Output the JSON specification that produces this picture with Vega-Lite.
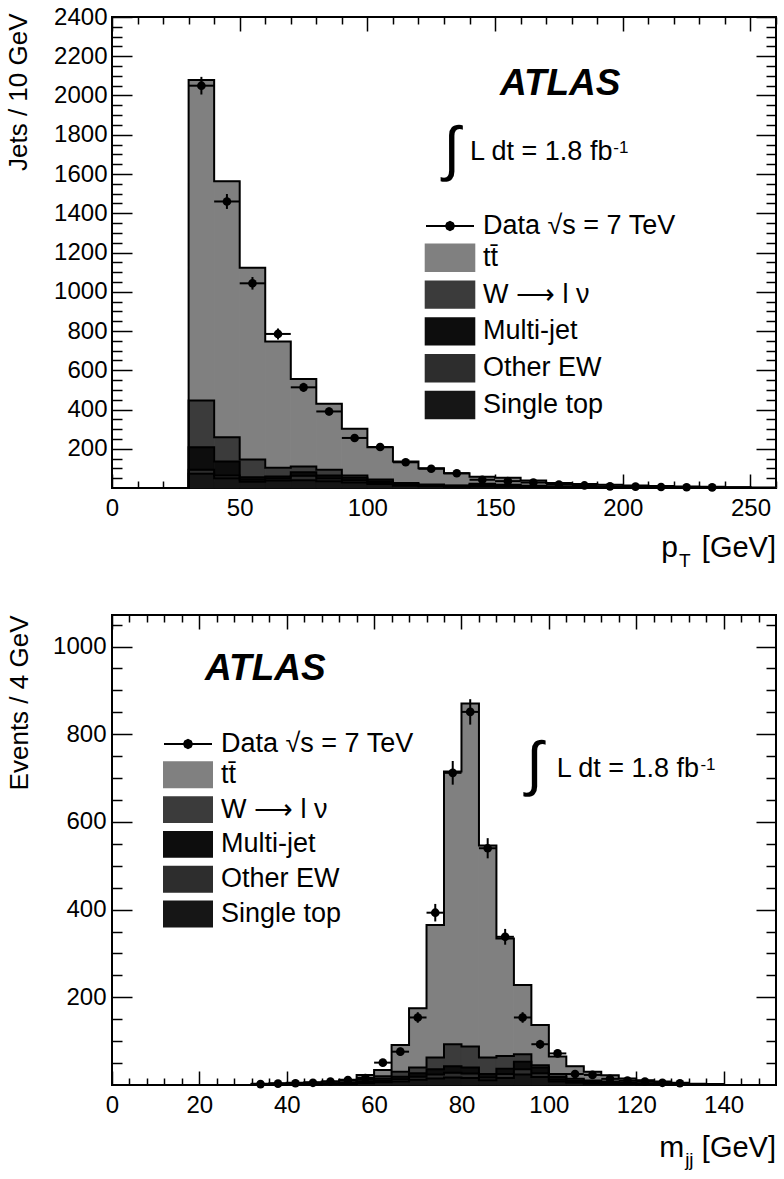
{
  "$schema": "https://vega.github.io/schema/vega-lite/v6.json",
  "padding": {"left": 3, "top": 4, "right": 0, "bottom": 0},
  "spacing": 40,
  "config": {
    "font": "Liberation Sans",
    "view": {"stroke": "black", "strokeWidth": 2},
    "axis": {"domain": false, "grid": false, "labelFont": "Liberation Sans", "labelFontSize": 24, "labelColor": "black", "tickColor": "black", "tickWidth": 1.5, "titleFont": "Liberation Sans", "titleFontSize": 26, "titleFontWeight": "normal", "titleColor": "black", "labelFlush": false, "labelOverlap": false}
  },
  "resolve": {"scale": {"fill": "independent", "stroke": "independent"}, "legend": {"fill": "independent"}},
  "datasets": {
    "hist1": [
      {"lo":20,"hi":30,"st":0,"ew":0,"mj":0,"w":0,"tt":0},
      {"lo":30,"hi":40,"st":72,"ew":21,"mj":115,"w":238,"tt":1633},
      {"lo":40,"hi":50,"st":50,"ew":14,"mj":71,"w":124,"tt":1304},
      {"lo":50,"hi":60,"st":32,"ew":10,"mj":13,"w":90,"tt":977},
      {"lo":60,"hi":70,"st":38,"ew":10,"mj":11,"w":44,"tt":643},
      {"lo":70,"hi":80,"st":40,"ew":22,"mj":18,"w":30,"tt":446},
      {"lo":80,"hi":90,"st":35,"ew":14,"mj":15,"w":29,"tt":336},
      {"lo":90,"hi":100,"st":28,"ew":12,"mj":12,"w":12,"tt":238},
      {"lo":100,"hi":110,"st":20,"ew":8,"mj":6,"w":9,"tt":165},
      {"lo":110,"hi":120,"st":12,"ew":5,"mj":4,"w":5,"tt":109},
      {"lo":120,"hi":130,"st":9,"ew":4,"mj":2,"w":3,"tt":83},
      {"lo":130,"hi":140,"st":6,"ew":3,"mj":2,"w":2,"tt":62},
      {"lo":140,"hi":150,"st":8,"ew":4,"mj":4,"w":6,"tt":35},
      {"lo":150,"hi":160,"st":7,"ew":3,"mj":3,"w":4,"tt":35},
      {"lo":160,"hi":170,"st":5,"ew":2,"mj":1,"w":3,"tt":27},
      {"lo":170,"hi":180,"st":3,"ew":2,"mj":1,"w":2,"tt":18},
      {"lo":180,"hi":190,"st":2,"ew":1,"mj":1,"w":1,"tt":16},
      {"lo":190,"hi":200,"st":2,"ew":1,"mj":0,"w":1,"tt":13},
      {"lo":200,"hi":210,"st":1,"ew":1,"mj":0,"w":1,"tt":10},
      {"lo":210,"hi":220,"st":1,"ew":0,"mj":0,"w":1,"tt":8},
      {"lo":220,"hi":230,"st":1,"ew":0,"mj":0,"w":1,"tt":6},
      {"lo":230,"hi":240,"st":1,"ew":0,"mj":0,"w":0,"tt":5},
      {"lo":240,"hi":250,"st":1,"ew":0,"mj":0,"w":0,"tt":3},
      {"lo":250,"hi":260,"st":0,"ew":0,"mj":0,"w":0,"tt":3}
    ],
    "pts1": [
      {"c":35,"lo":30,"hi":40,"n":2050,"e":45},
      {"c":45,"lo":40,"hi":50,"n":1460,"e":38},
      {"c":55,"lo":50,"hi":60,"n":1043,"e":32},
      {"c":65,"lo":60,"hi":70,"n":785,"e":28},
      {"c":75,"lo":70,"hi":80,"n":513,"e":23},
      {"c":85,"lo":80,"hi":90,"n":390,"e":20},
      {"c":95,"lo":90,"hi":100,"n":255,"e":16},
      {"c":105,"lo":100,"hi":110,"n":209,"e":14},
      {"c":115,"lo":110,"hi":120,"n":131,"e":11},
      {"c":125,"lo":120,"hi":130,"n":98,"e":10},
      {"c":135,"lo":130,"hi":140,"n":75,"e":9},
      {"c":145,"lo":140,"hi":150,"n":42,"e":6},
      {"c":155,"lo":150,"hi":160,"n":35,"e":6},
      {"c":165,"lo":160,"hi":170,"n":28,"e":5},
      {"c":175,"lo":170,"hi":180,"n":18,"e":4},
      {"c":185,"lo":180,"hi":190,"n":13,"e":4},
      {"c":195,"lo":190,"hi":200,"n":8,"e":3},
      {"c":205,"lo":200,"hi":210,"n":7,"e":3},
      {"c":215,"lo":210,"hi":220,"n":5,"e":2},
      {"c":225,"lo":220,"hi":230,"n":4,"e":2},
      {"c":235,"lo":230,"hi":240,"n":3,"e":2}
    ],
    "hist2": [
      {"lo":28,"hi":32,"st":0,"ew":0,"mj":0,"w":0,"tt":0},
      {"lo":32,"hi":36,"st":1,"ew":0,"mj":0,"w":1,"tt":1},
      {"lo":36,"hi":40,"st":1,"ew":0,"mj":0,"w":1,"tt":2},
      {"lo":40,"hi":44,"st":1,"ew":1,"mj":0,"w":1,"tt":2},
      {"lo":44,"hi":48,"st":1,"ew":0,"mj":1,"w":1,"tt":3},
      {"lo":48,"hi":52,"st":2,"ew":0,"mj":1,"w":1,"tt":4},
      {"lo":52,"hi":56,"st":2,"ew":1,"mj":1,"w":2,"tt":6},
      {"lo":56,"hi":60,"st":4,"ew":2,"mj":2,"w":4,"tt":11},
      {"lo":60,"hi":64,"st":6,"ew":3,"mj":5,"w":6,"tt":14},
      {"lo":64,"hi":68,"st":8,"ew":5,"mj":6,"w":11,"tt":61},
      {"lo":68,"hi":72,"st":12,"ew":7,"mj":8,"w":13,"tt":135},
      {"lo":72,"hi":76,"st":15,"ew":9,"mj":12,"w":27,"tt":302},
      {"lo":76,"hi":80,"st":17,"ew":11,"mj":15,"w":50,"tt":622},
      {"lo":80,"hi":84,"st":16,"ew":10,"mj":14,"w":48,"tt":782},
      {"lo":84,"hi":88,"st":11,"ew":6,"mj":8,"w":38,"tt":483},
      {"lo":88,"hi":92,"st":16,"ew":9,"mj":12,"w":29,"tt":268},
      {"lo":92,"hi":96,"st":24,"ew":12,"mj":17,"w":17,"tt":158},
      {"lo":96,"hi":100,"st":18,"ew":9,"mj":13,"w":5,"tt":92},
      {"lo":100,"hi":104,"st":8,"ew":4,"mj":6,"w":7,"tt":40},
      {"lo":104,"hi":108,"st":5,"ew":2,"mj":3,"w":4,"tt":29},
      {"lo":108,"hi":112,"st":3,"ew":2,"mj":2,"w":3,"tt":20},
      {"lo":112,"hi":116,"st":2,"ew":1,"mj":2,"w":3,"tt":14},
      {"lo":116,"hi":120,"st":2,"ew":1,"mj":1,"w":2,"tt":9},
      {"lo":120,"hi":124,"st":1,"ew":1,"mj":1,"w":1,"tt":7},
      {"lo":124,"hi":128,"st":1,"ew":0,"mj":1,"w":1,"tt":5},
      {"lo":128,"hi":132,"st":1,"ew":0,"mj":0,"w":1,"tt":3},
      {"lo":132,"hi":136,"st":1,"ew":0,"mj":0,"w":0,"tt":2},
      {"lo":136,"hi":140,"st":0,"ew":0,"mj":0,"w":1,"tt":1},
      {"lo":140,"hi":144,"st":0,"ew":0,"mj":0,"w":0,"tt":0}
    ],
    "pts2": [
      {"c":34,"lo":32,"hi":36,"n":2,"e":1.4},
      {"c":38,"lo":36,"hi":40,"n":3,"e":1.7},
      {"c":42,"lo":40,"hi":44,"n":4,"e":2},
      {"c":46,"lo":44,"hi":48,"n":5,"e":2.2},
      {"c":50,"lo":48,"hi":52,"n":8,"e":2.8},
      {"c":54,"lo":52,"hi":56,"n":11,"e":3.3},
      {"c":58,"lo":56,"hi":60,"n":16,"e":4},
      {"c":62,"lo":60,"hi":64,"n":51,"e":7},
      {"c":66,"lo":64,"hi":68,"n":76,"e":9},
      {"c":70,"lo":68,"hi":72,"n":154,"e":12},
      {"c":74,"lo":72,"hi":76,"n":393,"e":20},
      {"c":78,"lo":76,"hi":80,"n":712,"e":27},
      {"c":82,"lo":80,"hi":84,"n":851,"e":29},
      {"c":86,"lo":84,"hi":88,"n":540,"e":23},
      {"c":90,"lo":88,"hi":92,"n":338,"e":18},
      {"c":94,"lo":92,"hi":96,"n":154,"e":12},
      {"c":98,"lo":96,"hi":100,"n":93,"e":10},
      {"c":102,"lo":100,"hi":104,"n":72,"e":8.5},
      {"c":106,"lo":104,"hi":108,"n":25,"e":5},
      {"c":110,"lo":108,"hi":112,"n":23,"e":5},
      {"c":114,"lo":112,"hi":116,"n":14,"e":4},
      {"c":118,"lo":116,"hi":120,"n":10,"e":3},
      {"c":122,"lo":120,"hi":124,"n":8,"e":3},
      {"c":126,"lo":124,"hi":128,"n":5,"e":2},
      {"c":130,"lo":128,"hi":132,"n":4,"e":2}
    ]
  },
  "vconcat": [
    {
      "width": 664,
      "height": 471,
      "resolve": {"axis": {"x": "independent", "y": "independent"}},
      "layer": [
        {
          "data": {"name": "hist1"},
          "transform": [
            {"fold": ["st", "ew", "mj", "w", "tt"], "as": ["proc", "n"]},
            {"lookup": "proc", "from": {"data": {"values": [{"proc":"st","label":"Single top","rank":1},{"proc":"ew","label":"Other EW","rank":2},{"proc":"mj","label":"Multi-jet","rank":3},{"proc":"w","label":"W ⟶ l ν","rank":4},{"proc":"tt","label":"tt̄","rank":5}]}, "key": "proc", "fields": ["label", "rank"]}},
            {"stack": "n", "groupby": ["lo"], "sort": [{"field": "rank", "order": "ascending"}], "as": ["y0", "y1"]}
          ],
          "mark": {"type": "rect", "strokeWidth": 1},
          "encoding": {
            "x": {"field": "lo", "type": "quantitative", "scale": {"domain": [0, 260], "nice": false, "zero": false},
                  "axis": {"orient": "bottom", "values": [0, 50, 100, 150, 200, 250], "format": "d", "tickSize": -14, "labelPadding": 22, "title": null}},
            "x2": {"field": "hi"},
            "y": {"field": "y0", "type": "quantitative", "scale": {"domain": [0, 2400], "nice": false, "zero": false},
                  "axis": {"orient": "left", "values": [200, 400, 600, 800, 1000, 1200, 1400, 1600, 1800, 2000, 2200, 2400], "format": "d", "tickSize": -20, "labelPadding": 25, "title": "Jets / 10 GeV", "titleAngle": -90, "titleAlign": "right", "titleBaseline": "middle", "titleX": -94, "titleY": -4}},
            "y2": {"field": "y1"},
            "stroke": {"field": "label", "type": "nominal", "legend": null,
                     "scale": {"domain": ["Data √s = 7 TeV", "tt̄", "W ⟶ l ν", "Multi-jet", "Other EW", "Single top"], "range": ["#000000", "#808080", "#3b3b3b", "#0d0d0d", "#2d2d2d", "#161616"]}},
            "fill": {"field": "label", "type": "nominal",
                     "scale": {"domain": ["Data √s = 7 TeV", "tt̄", "W ⟶ l ν", "Multi-jet", "Other EW", "Single top"], "range": ["#000000", "#808080", "#3b3b3b", "#0d0d0d", "#2d2d2d", "#161616"]},
                     "legend": {"title": null, "orient": "none", "legendX": 322, "legendY": 193, "padding": 0, "rowPadding": 0.8, "symbolSize": 900, "labelFont": "Liberation Sans", "labelFontSize": 27, "labelColor": "black", "labelLimit": 400, "labelOffset": 17,
                                "encode": {"symbols": {"update": {"shape": {"signal": "datum.index === 0 ? 'M-1.6,0L1.6,0M-0.27,0L-0.19,-0.19L0,-0.27L0.19,-0.19L0.27,0L0.19,0.19L0,0.27L-0.19,0.19Z' : 'M-1.62,-0.88L1.62,-0.88L1.62,0.88L-1.62,0.88Z'"}, "stroke": {"value": "black"}, "strokeWidth": {"value": 2}, "opacity": {"value": 1}}}}}}
          }
        },
        {
          "data": {"name": "hist1"},
          "transform": [
            {"fold": ["st", "ew", "mj", "w", "tt"], "as": ["proc", "n"]},
            {"lookup": "proc", "from": {"data": {"values": [{"proc":"st","rank":1},{"proc":"ew","rank":2},{"proc":"mj","rank":3},{"proc":"w","rank":4},{"proc":"tt","rank":5}]}, "key": "proc", "fields": ["rank"]}},
            {"stack": "n", "groupby": ["lo"], "sort": [{"field": "rank", "order": "ascending"}], "as": ["y0", "y1"]},
            {"fold": ["lo", "hi"], "as": ["side", "edge"]}
          ],
          "mark": {"type": "line", "color": "black", "strokeWidth": 2, "interpolate": "linear"},
          "encoding": {
            "x": {"field": "edge", "type": "quantitative", "scale": {"domain": [0, 260], "nice": false, "zero": false},
                  "axis": {"orient": "bottom", "values": [10,20,30,40,60,70,80,90,110,120,130,140,160,170,180,190,210,220,230,240,260], "tickSize": -7, "labels": false, "title": null}},
            "y": {"field": "y1", "type": "quantitative", "scale": {"domain": [0, 2400], "nice": false, "zero": false},
                  "axis": {"orient": "left", "values": [50,100,150,250,300,350,450,500,550,650,700,750,850,900,950,1050,1100,1150,1250,1300,1350,1450,1500,1550,1650,1700,1750,1850,1900,1950,2050,2100,2150,2250,2300,2350], "tickSize": -10, "labels": false, "title": null}},
            "detail": {"field": "proc", "type": "nominal"},
            "order": [{"field": "edge", "type": "quantitative"}, {"field": "lo", "type": "quantitative"}]
          }
        },
        {
          "data": {"name": "pts1"},
          "mark": {"type": "errorbar", "thickness": 2, "color": "black"},
          "encoding": {
            "x": {"field": "c", "type": "quantitative", "axis": null},
            "y": {"field": "n", "type": "quantitative", "axis": null},
            "yError": {"field": "e"}
          }
        },
        {
          "data": {"name": "pts1"},
          "mark": {"type": "rule", "strokeWidth": 2, "color": "black"},
          "encoding": {
            "x": {"field": "lo", "type": "quantitative", "axis": {"orient": "top", "values": [0, 50, 100, 150, 200, 250], "tickSize": -14, "labels": false, "title": null}},
            "x2": {"field": "hi"},
            "y": {"field": "n", "type": "quantitative", "axis": {"orient": "right", "values": [200, 400, 600, 800, 1000, 1200, 1400, 1600, 1800, 2000, 2200, 2400], "tickSize": -20, "labels": false, "title": null}}
          }
        },
        {
          "data": {"name": "pts1"},
          "mark": {"type": "circle", "size": 75, "color": "black", "opacity": 1},
          "encoding": {
            "x": {"field": "c", "type": "quantitative", "axis": {"orient": "top", "values": [10,20,30,40,60,70,80,90,110,120,130,140,160,170,180,190,210,220,230,240,260], "tickSize": -7, "labels": false, "title": null}},
            "y": {"field": "n", "type": "quantitative", "axis": {"orient": "right", "values": [50,100,150,250,300,350,450,500,550,650,700,750,850,900,950,1050,1100,1150,1250,1300,1350,1450,1500,1550,1650,1700,1750,1850,1900,1950,2050,2100,2150,2250,2300,2350], "tickSize": -10, "labels": false, "title": null}}
          }
        },
        {
          "data": {"values": [{}]},
          "mark": {"type": "text", "text": "ATLAS", "font": "Liberation Sans", "fontWeight": "bold", "fontStyle": "italic", "fontSize": 37, "align": "center", "baseline": "middle", "color": "black"},
          "encoding": {"x": {"datum": 175.5, "type": "quantitative", "axis": null}, "y": {"datum": 2059, "type": "quantitative", "axis": null}}
        },
        {
          "data": {"values": [{}]},
          "mark": {"type": "text", "text": "∫", "font": "Liberation Sans", "fontSize": 60, "align": "center", "baseline": "middle", "color": "black"},
          "encoding": {"x": {"datum": 133, "type": "quantitative", "axis": null}, "y": {"datum": 1719, "type": "quantitative", "axis": null}}
        },
        {
          "data": {"values": [{}]},
          "mark": {"type": "text", "text": "L dt = 1.8 fb", "font": "Liberation Sans", "fontSize": 27, "align": "left", "baseline": "alphabetic", "color": "black"},
          "encoding": {"x": {"datum": 140.2, "type": "quantitative", "axis": null}, "y": {"datum": 1672, "type": "quantitative", "axis": null}}
        },
        {
          "data": {"values": [{}]},
          "mark": {"type": "text", "text": "-1", "font": "Liberation Sans", "fontSize": 17, "align": "left", "baseline": "alphabetic", "color": "black"},
          "encoding": {"x": {"datum": 196.3, "type": "quantitative", "axis": null}, "y": {"datum": 1705, "type": "quantitative", "axis": null}}
        },
        {
          "data": {"values": [{}]},
          "mark": {"type": "text", "text": "[GeV]", "font": "Liberation Sans", "fontSize": 29, "align": "right", "baseline": "alphabetic", "color": "black"},
          "encoding": {"x": {"datum": 260, "type": "quantitative", "axis": null}, "y": {"datum": -354, "type": "quantitative", "axis": null}}
        },
        {
          "data": {"values": [{}]},
          "mark": {"type": "text", "text": "p", "font": "Liberation Sans", "fontSize": 30, "align": "right", "baseline": "alphabetic", "color": "black"},
          "encoding": {"x": {"datum": 221.6, "type": "quantitative", "axis": null}, "y": {"datum": -354, "type": "quantitative", "axis": null}}
        },
        {
          "data": {"values": [{}]},
          "mark": {"type": "text", "text": "T", "font": "Liberation Sans", "fontSize": 19, "align": "left", "baseline": "alphabetic", "color": "black"},
          "encoding": {"x": {"datum": 222, "type": "quantitative", "axis": null}, "y": {"datum": -405, "type": "quantitative", "axis": null}}
        }
      ]
    },
    {
      "width": 664,
      "height": 470,
      "resolve": {"axis": {"x": "independent", "y": "independent"}},
      "layer": [
        {
          "data": {"name": "hist2"},
          "transform": [
            {"fold": ["st", "ew", "mj", "w", "tt"], "as": ["proc", "n"]},
            {"lookup": "proc", "from": {"data": {"values": [{"proc":"st","label":"Single top","rank":1},{"proc":"ew","label":"Other EW","rank":2},{"proc":"mj","label":"Multi-jet","rank":3},{"proc":"w","label":"W ⟶ l ν","rank":4},{"proc":"tt","label":"tt̄","rank":5}]}, "key": "proc", "fields": ["label", "rank"]}},
            {"stack": "n", "groupby": ["lo"], "sort": [{"field": "rank", "order": "ascending"}], "as": ["y0", "y1"]}
          ],
          "mark": {"type": "rect", "strokeWidth": 1},
          "encoding": {
            "x": {"field": "lo", "type": "quantitative", "scale": {"domain": [0, 152], "nice": false, "zero": false},
                  "axis": {"orient": "bottom", "values": [0, 20, 40, 60, 80, 100, 120, 140], "format": "d", "tickSize": -14, "labelPadding": 22, "title": null}},
            "x2": {"field": "hi"},
            "y": {"field": "y0", "type": "quantitative", "scale": {"domain": [0, 1072], "nice": false, "zero": false},
                  "axis": {"orient": "left", "values": [200, 400, 600, 800, 1000], "format": "d", "tickSize": -20, "labelPadding": 26, "title": "Events / 4 GeV", "titleAngle": -90, "titleAlign": "right", "titleBaseline": "middle", "titleX": -93, "titleY": 0}},
            "y2": {"field": "y1"},
            "stroke": {"field": "label", "type": "nominal", "legend": null,
                     "scale": {"domain": ["Data √s = 7 TeV", "tt̄", "W ⟶ l ν", "Multi-jet", "Other EW", "Single top"], "range": ["#000000", "#808080", "#3b3b3b", "#0d0d0d", "#2d2d2d", "#161616"]}},
            "fill": {"field": "label", "type": "nominal",
                     "scale": {"domain": ["Data √s = 7 TeV", "tt̄", "W ⟶ l ν", "Multi-jet", "Other EW", "Single top"], "range": ["#000000", "#808080", "#3b3b3b", "#0d0d0d", "#2d2d2d", "#161616"]},
                     "legend": {"title": null, "orient": "none", "legendX": 60, "legendY": 113, "padding": 0, "rowPadding": 0.8, "symbolSize": 900, "labelFont": "Liberation Sans", "labelFontSize": 27, "labelColor": "black", "labelLimit": 400, "labelOffset": 17,
                                "encode": {"symbols": {"update": {"shape": {"signal": "datum.index === 0 ? 'M-1.6,0L1.6,0M-0.27,0L-0.19,-0.19L0,-0.27L0.19,-0.19L0.27,0L0.19,0.19L0,0.27L-0.19,0.19Z' : 'M-1.6,-0.83L1.6,-0.83L1.6,0.83L-1.6,0.83Z'"}, "stroke": {"value": "black"}, "strokeWidth": {"value": 2}, "opacity": {"value": 1}}}}}}
          }
        },
        {
          "data": {"name": "hist2"},
          "transform": [
            {"fold": ["st", "ew", "mj", "w", "tt"], "as": ["proc", "n"]},
            {"lookup": "proc", "from": {"data": {"values": [{"proc":"st","rank":1},{"proc":"ew","rank":2},{"proc":"mj","rank":3},{"proc":"w","rank":4},{"proc":"tt","rank":5}]}, "key": "proc", "fields": ["rank"]}},
            {"stack": "n", "groupby": ["lo"], "sort": [{"field": "rank", "order": "ascending"}], "as": ["y0", "y1"]},
            {"fold": ["lo", "hi"], "as": ["side", "edge"]}
          ],
          "mark": {"type": "line", "color": "black", "strokeWidth": 2, "interpolate": "linear"},
          "encoding": {
            "x": {"field": "edge", "type": "quantitative", "scale": {"domain": [0, 152], "nice": false, "zero": false},
                  "axis": {"orient": "bottom", "values": [4,8,12,16,24,28,32,36,44,48,52,56,64,68,72,76,84,88,92,96,104,108,112,116,124,128,132,136,144,148], "tickSize": -7, "labels": false, "title": null}},
            "y": {"field": "y1", "type": "quantitative", "scale": {"domain": [0, 1072], "nice": false, "zero": false},
                  "axis": {"orient": "left", "values": [50,100,150,250,300,350,450,500,550,650,700,750,850,900,950,1050], "tickSize": -10, "labels": false, "title": null}},
            "detail": {"field": "proc", "type": "nominal"},
            "order": [{"field": "edge", "type": "quantitative"}, {"field": "lo", "type": "quantitative"}]
          }
        },
        {
          "data": {"name": "pts2"},
          "mark": {"type": "errorbar", "thickness": 2, "color": "black"},
          "encoding": {
            "x": {"field": "c", "type": "quantitative", "axis": null},
            "y": {"field": "n", "type": "quantitative", "axis": null},
            "yError": {"field": "e"}
          }
        },
        {
          "data": {"name": "pts2"},
          "mark": {"type": "rule", "strokeWidth": 2, "color": "black"},
          "encoding": {
            "x": {"field": "lo", "type": "quantitative", "axis": {"orient": "top", "values": [0, 20, 40, 60, 80, 100, 120, 140], "tickSize": -14, "labels": false, "title": null}},
            "x2": {"field": "hi"},
            "y": {"field": "n", "type": "quantitative", "axis": {"orient": "right", "values": [200, 400, 600, 800, 1000], "tickSize": -20, "labels": false, "title": null}}
          }
        },
        {
          "data": {"name": "pts2"},
          "mark": {"type": "circle", "size": 75, "color": "black", "opacity": 1},
          "encoding": {
            "x": {"field": "c", "type": "quantitative", "axis": {"orient": "top", "values": [4,8,12,16,24,28,32,36,44,48,52,56,64,68,72,76,84,88,92,96,104,108,112,116,124,128,132,136,144,148], "tickSize": -7, "labels": false, "title": null}},
            "y": {"field": "n", "type": "quantitative", "axis": {"orient": "right", "values": [50,100,150,250,300,350,450,500,550,650,700,750,850,900,950,1050], "tickSize": -10, "labels": false, "title": null}}
          }
        },
        {
          "data": {"values": [{}]},
          "mark": {"type": "text", "text": "ATLAS", "font": "Liberation Sans", "fontWeight": "bold", "fontStyle": "italic", "fontSize": 37, "align": "center", "baseline": "middle", "color": "black"},
          "encoding": {"x": {"datum": 35.1, "type": "quantitative", "axis": null}, "y": {"datum": 949, "type": "quantitative", "axis": null}}
        },
        {
          "data": {"values": [{}]},
          "mark": {"type": "text", "text": "∫", "font": "Liberation Sans", "fontSize": 60, "align": "center", "baseline": "middle", "color": "black"},
          "encoding": {"x": {"datum": 96.7, "type": "quantitative", "axis": null}, "y": {"datum": 727.5, "type": "quantitative", "axis": null}}
        },
        {
          "data": {"values": [{}]},
          "mark": {"type": "text", "text": "L dt = 1.8 fb", "font": "Liberation Sans", "fontSize": 27, "align": "left", "baseline": "alphabetic", "color": "black"},
          "encoding": {"x": {"datum": 101.8, "type": "quantitative", "axis": null}, "y": {"datum": 702.4, "type": "quantitative", "axis": null}}
        },
        {
          "data": {"values": [{}]},
          "mark": {"type": "text", "text": "-1", "font": "Liberation Sans", "fontSize": 17, "align": "left", "baseline": "alphabetic", "color": "black"},
          "encoding": {"x": {"datum": 134.7, "type": "quantitative", "axis": null}, "y": {"datum": 718, "type": "quantitative", "axis": null}}
        },
        {
          "data": {"values": [{}]},
          "mark": {"type": "text", "text": "[GeV]", "font": "Liberation Sans", "fontSize": 29, "align": "right", "baseline": "alphabetic", "color": "black"},
          "encoding": {"x": {"datum": 152, "type": "quantitative", "axis": null}, "y": {"datum": -164, "type": "quantitative", "axis": null}}
        },
        {
          "data": {"values": [{}]},
          "mark": {"type": "text", "text": "m", "font": "Liberation Sans", "fontSize": 30, "align": "right", "baseline": "alphabetic", "color": "black"},
          "encoding": {"x": {"datum": 131, "type": "quantitative", "axis": null}, "y": {"datum": -164, "type": "quantitative", "axis": null}}
        },
        {
          "data": {"values": [{}]},
          "mark": {"type": "text", "text": "jj", "font": "Liberation Sans", "fontSize": 19, "align": "left", "baseline": "alphabetic", "color": "black"},
          "encoding": {"x": {"datum": 131.2, "type": "quantitative", "axis": null}, "y": {"datum": -185, "type": "quantitative", "axis": null}}
        }
      ]
    }
  ]
}
